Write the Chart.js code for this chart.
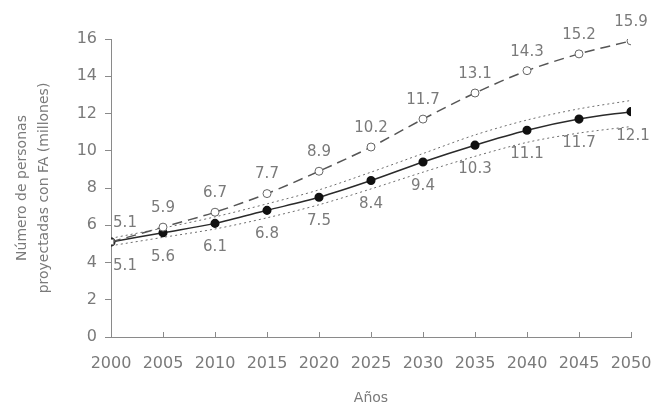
<!DOCTYPE html>
<html>
<head>
<meta charset="utf-8">
<script src="https://cdn.jsdelivr.net/npm/chart.js@4/dist/chart.umd.min.js"></script>
<style>
  html, body { margin: 0; padding: 0; background: #ffffff; }
  #wrap { width: 663px; height: 403px; }
</style>
</head>
<body>
<div id="wrap"><canvas id="c" width="663" height="403"></canvas></div>
<script>
// Years on the horizontal axis
const years = [2000, 2005, 2010, 2015, 2020, 2025, 2030, 2035, 2040, 2045, 2050];
// Projected number of people with AF (millions), upper scenario (dashed, open markers)
const upperScenario = [5.1, 5.9, 6.7, 7.7, 8.9, 10.2, 11.7, 13.1, 14.3, 15.2, 15.9];
// Baseline projection (solid, filled markers)
const baseline = [5.1, 5.6, 6.1, 6.8, 7.5, 8.4, 9.4, 10.3, 11.1, 11.7, 12.1];
// Dotted interval around the baseline
const bandHigh = [5.3, 5.85, 6.45, 7.15, 7.9, 8.85, 9.85, 10.85, 11.65, 12.25, 12.7];
const bandLow = [4.9, 5.35, 5.8, 6.4, 7.1, 7.95, 8.85, 9.7, 10.45, 10.95, 11.3];
// Axis ticks
const yTicks = [0, 2, 4, 6, 8, 10, 12, 14, 16];
const xTicks = years;

const grey = '#7a7a7a';
const axisGrey = '#8a8a8a';
const fontFamily = '"DejaVu Sans", sans-serif';

const pts = arr => arr.map((v, i) => ({ x: years[i], y: v }));

// Value labels: above the upper scenario, below the baseline
const valueLabels = {
  id: 'valueLabels',
  afterDatasetsDraw(chart) {
    const ctx = chart.ctx;
    ctx.save();
    ctx.font = '15px ' + fontFamily;
    ctx.fillStyle = grey;
    ctx.textAlign = 'center';
    ctx.textBaseline = 'middle';
    chart.data.datasets.forEach((ds, di) => {
      if (!ds.valuePlacement) return;
      const meta = chart.getDatasetMeta(di);
      meta.data.forEach((el, i) => {
        const v = ds.data[i].y;
        let dx = i === 0 ? 14 : 0;
        let dy = ds.valuePlacement === 'above' ? -19 : 24;
        if (ds.valuePlacement === 'below' && i === years.length - 1) dx = 2;
        ctx.fillText(v.toFixed(1), el.x + dx, el.y + dy);
      });
    });
    ctx.restore();
  }
};

// Short tick marks on the x axis pointing into the plot
const innerXTicks = {
  id: 'innerXTicks',
  afterDraw(chart) {
    const ctx = chart.ctx;
    const xs = chart.scales.x;
    const base = chart.scales.y.getPixelForValue(0);
    ctx.save();
    ctx.strokeStyle = axisGrey;
    ctx.lineWidth = 1;
    xTicks.forEach(t => {
      const px = Math.round(xs.getPixelForValue(t)) + 0.5;
      ctx.beginPath();
      ctx.moveTo(px, base);
      ctx.lineTo(px, base - 5);
      ctx.stroke();
    });
    ctx.restore();
  }
};

new Chart(document.getElementById('c'), {
  type: 'line',
  data: {
    datasets: [
      {
        data: pts(bandHigh),
        borderColor: '#6e6e6e',
        borderWidth: 1,
        borderDash: [2, 3],
        pointRadius: 0,
        tension: 0.3,
        fill: false,
        order: 3
      },
      {
        data: pts(bandLow),
        borderColor: '#6e6e6e',
        borderWidth: 1,
        borderDash: [2, 3],
        pointRadius: 0,
        tension: 0.3,
        fill: false,
        order: 3
      },
      {
        data: pts(upperScenario),
        borderColor: '#555555',
        borderWidth: 1.5,
        borderDash: [10, 6],
        pointStyle: years.map((y, i) => i === 0 ? 'rect' : 'circle'),
        pointRadius: 4,
        pointBackgroundColor: '#ffffff',
        pointBorderColor: '#666666',
        pointBorderWidth: 1,
        tension: 0.3,
        fill: false,
        order: 1,
        valuePlacement: 'above'
      },
      {
        data: pts(baseline),
        borderColor: '#2a2a2a',
        borderWidth: 1.5,
        pointStyle: 'circle',
        pointRadius: 3.8,
        pointBackgroundColor: '#111111',
        pointBorderColor: '#111111',
        tension: 0.3,
        fill: false,
        order: 2,
        valuePlacement: 'below'
      }
    ]
  },
  options: {
    responsive: false,
    animation: false,
    devicePixelRatio: 1,
    layout: { padding: { top: 39, right: 32, left: 0, bottom: 0 } },
    plugins: { legend: { display: false }, tooltip: { enabled: false } },
    scales: {
      x: {
        type: 'linear',
        min: 2000,
        max: 2050,
        afterBuildTicks(scale) { scale.ticks = xTicks.map(v => ({ value: v })); },
        afterFit(scale) { scale.height = 66; },
        grid: { display: false },
        border: { display: true, color: axisGrey, width: 1 },
        ticks: {
          color: grey,
          font: { family: fontFamily, size: 16 },
          padding: 9,
          maxRotation: 0,
          callback: v => String(v)
        },
        title: {
          display: true,
          text: 'Años',
          color: grey,
          font: { family: fontFamily, size: 14, lineHeight: 1 },
          padding: { top: 0, bottom: -2 }
        }
      },
      y: {
        min: 0,
        max: 16,
        afterBuildTicks(scale) { scale.ticks = yTicks.map(v => ({ value: v })); },
        afterFit(scale) { scale.width = 111; },
        grid: { display: true, drawOnChartArea: false, drawTicks: true, tickLength: 6, color: axisGrey },
        border: { display: true, color: axisGrey, width: 1 },
        ticks: {
          color: grey,
          font: { family: fontFamily, size: 16 },
          padding: 8
        },
        title: {
          display: true,
          text: ['Número de personas', 'proyectadas con FA (millones)'],
          color: grey,
          font: { family: fontFamily, size: 14, lineHeight: 1.55 },
          padding: { top: 12, bottom: 0 }
        }
      }
    }
  },
  plugins: [valueLabels, innerXTicks]
});
</script>
</body>
</html>
